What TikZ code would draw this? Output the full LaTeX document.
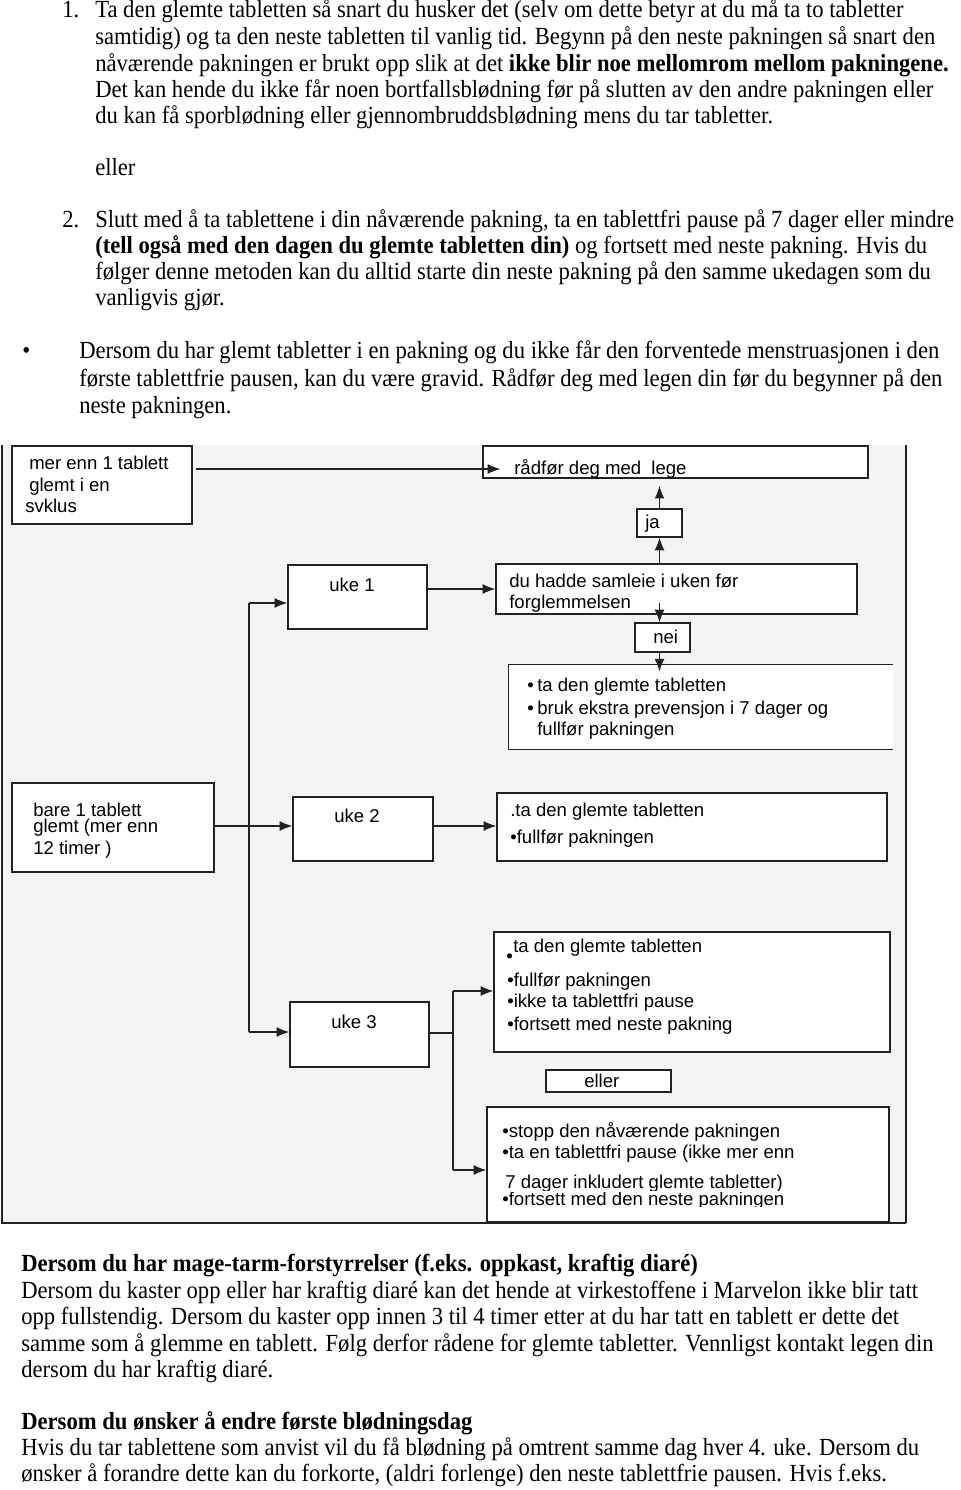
\documentclass[tikz,border=0pt]{standalone}
\usepackage{fontspec}
\setmainfont{Liberation Serif}[FakeStretch=0.92]
\setsansfont{Liberation Sans}
\usepackage{tikz}
\usetikzlibrary{arrows.meta, positioning, fit, calc}
\definecolor{cLine}{HTML}{222222}
\definecolor{cPanel}{HTML}{F4F4F4}

\begin{document}
\begin{tikzpicture}[
    x=0.025cm, y=-0.025cm,
    >=Latex,
    arrow/.style={-{Latex[length=9pt,width=7pt]}, line width=0.9pt, draw=cLine},
    link/.style={line width=0.9pt, draw=cLine},
    box/.style={draw=cLine, fill=white, line width=0.9pt, inner sep=0pt},
    para/.style={anchor=base west, inner sep=0pt, font=\fontsize{17.5}{20}\selectfont},
    lab/.style={anchor=base west, inner sep=0pt, font=\sffamily\fontsize{13.2}{15}\selectfont},
]

\useasboundingbox (0,0) rectangle (960,1490);
\fill[white] (0,0) rectangle (960,1490);

% ---------- Text above the chart ----------
\node[para] (n1) at (62,18) {1.};
\foreach \yy/\ln [count=\i] in {
  18/{Ta den glemte tabletten så snart du husker det (selv om dette betyr at du må ta to tabletter},
  45/{samtidig) og ta den neste tabletten til vanlig tid. Begynn på den neste pakningen så snart den},
  72/{nåværende pakningen er brukt opp slik at det \textbf{ikke blir noe mellomrom mellom pakningene.}},
  98/{Det kan hende du ikke får noen bortfallsblødning før på slutten av den andre pakningen eller},
  124/{du kan få sporblødning eller gjennombruddsblødning mens du tar tabletter.},
  176/{eller}}{
  \node[para] (pa-\i) at (95,\yy) {\ln};
}

\node[para] (n2) at (62,228) {2.};
\foreach \yy/\ln [count=\i] in {
  228/{Slutt med å ta tablettene i din nåværende pakning, ta en tablettfri pause på 7 dager eller mindre},
  254/{\textbf{(tell også med den dagen du glemte tabletten din)} og fortsett med neste pakning. Hvis du},
  280/{følger denne metoden kan du alltid starte din neste pakning på den samme ukedagen som du},
  306/{vanligvis gjør.}}{
  \node[para] (pb-\i) at (95,\yy) {\ln};
}

\node[para] (dot) at (22,359) {•};
\foreach \yy/\ln [count=\i] in {
  359/{Dersom du har glemt tabletter i en pakning og du ikke får den forventede menstruasjonen i den},
  386/{første tablettfrie pausen, kan du være gravid. Rådfør deg med legen din før du begynner på den},
  413/{neste pakningen.}}{
  \node[para] (pc-\i) at (79,\yy) {\ln};
}

% ---------- Chart panel ----------
\fill[cPanel] (2,445) rectangle (906,1223);
\draw[cLine, line width=1.6pt] (2,445) -- (2,1223) -- (906,1223);
\draw[cLine, line width=1.1pt] (906,1223) -- (906,445);

% ---------- Boxes ----------
\node[box, fit={(12,446) (192,524)}] (mer) {};
\node[box, fit={(483,446) (868,478)}] (rad) {};
\node[box, fit={(637,509) (682,537)}] (ja) {};
\node[box, fit={(288,565) (427,629)}] (uke1) {};
\node[box, fit={(496,564) (857,614)}] (sam) {};
\node[box, fit={(635,623) (690,652)}] (nei) {};
\node[fill=white, inner sep=0pt, fit={(509,665) (893,749)}] (b1) {};
\draw[link] (b1.north east) -- (b1.north west) -- (b1.south west) -- (b1.south east);
\node[box, fit={(12,783) (214,872)}] (bare) {};
\node[box, fit={(293,797) (433,861)}] (uke2) {};
\node[box, fit={(497,793) (887,861)}] (b2) {};
\node[box, fit={(494,932) (890,1052)}] (b3) {};
\node[box, fit={(290,1002) (429,1067)}] (uke3) {};
\node[box, fit={(546,1070) (671,1092)}] (eller) {};
\node[box, fit={(487,1107) (889,1222)}] (b5) {};

% ---------- Box texts ----------
\node[lab] (mer-1) at (29,469) {mer enn 1 tablett};
\node[lab] (mer-2) at (29,491) {glemt i en};
\node[lab] (mer-3) at (25,512) {svklus};
\node[lab] (rad-t) at (514,474) {rådfør deg med\ \ lege};
\node[lab] (ja-t) at (645,528) {ja};
\node[lab] (uke1-t) at (329,591) {uke 1};
\node[lab] (sam-1) at (509,587) {du hadde samleie i uken før};
\node[lab] (sam-2) at (509,608) {forglemmelsen};
\node[lab] (nei-t) at (653,643) {nei};
\node[lab] (b1-d1) at (527,691) {•};
\node[lab] (b1-1) at (537,691) {ta den glemte tabletten};
\node[lab] (b1-d2) at (527,714) {•};
\node[lab] (b1-2) at (537,714) {bruk ekstra prevensjon i 7 dager og};
\node[lab] (b1-3) at (537,735) {fullfør pakningen};
\node[lab] (bare-1) at (33,816) {bare 1 tablett};
\node[lab] (bare-2) at (33,832) {glemt (mer enn};
\node[lab] (bare-3) at (33,854) {12 timer )};
\node[lab] (uke2-t) at (334,822) {uke 2};
\node[lab] (b2-1) at (510,816) {.ta den glemte tabletten};
\node[lab] (b2-2) at (510,843) {•fullfør pakningen};
\node[lab] (b3-1) at (513,952) {ta den glemte tabletten};
\node[lab] (b3-d) at (506,962) {•};
\node[lab] (b3-2) at (507,986) {•fullfør pakningen};
\node[lab] (b3-3) at (507,1007) {•ikke ta tablettfri pause};
\node[lab] (b3-4) at (507,1030) {•fortsett med neste pakning};
\node[lab] (uke3-t) at (331,1028) {uke 3};
\node[lab] (eller-t) at (584,1087) {eller};
\node[lab] (b5-1) at (502,1137) {•stopp den nåværende pakningen};
\node[lab] (b5-2) at (502,1158) {•ta en tablettfri pause (ikke mer enn};
\begin{scope}
  \clip (487,1170) rectangle (889,1190);
  \node[lab] (b5-3) at (505,1188) {7 dager inkludert glemte tabletter)};
\end{scope}
\begin{scope}
  \clip (487,1192) rectangle (889,1206);
  \node[lab] (b5-4) at (502,1205) {•fortsett med den neste pakningen};
\end{scope}

% ---------- Connectors ----------
\coordinate (m1) at (196,469);
\draw[arrow] (m1) -- ([xshift=0.45cm]rad.west |- m1);
\draw[arrow] (ja.north) -- ([yshift=-0.18cm]rad.south -| ja.north);
\draw[arrow] (sam.north -| ja.south) -- (ja.south);
\draw[arrow] ([yshift=0.3cm]sam.south -| ja.south) -- (nei.north -| ja.south);
\draw[arrow] (nei.south -| ja.south) -- ([yshift=-0.17cm]b1.north -| ja.south);
\draw[arrow] (uke1.east |- sam.west) -- (sam.west);

\coordinate (t1) at (249,603);
\coordinate (t3) at (249,1032);
\draw[link] (t1) -- (t3);
\draw[arrow] (t1) -- (t1 -| uke1.west);
\draw[arrow] (t3) -- (t3 -| uke3.west);

\draw[arrow] (bare.east |- 0,826) -- (uke2.west |- 0,826);
\draw[arrow] (uke2.east |- 0,826) -- (b2.west |- 0,826);

\coordinate (s0) at (453,1033);
\coordinate (s1) at (453,991);
\coordinate (s2) at (453,1170);
\draw[link] (uke3.east |- s0) -- (s0);
\draw[link] (s1) -- (s2);
\draw[arrow] (s1) -- (s1 -| b3.west);
\draw[arrow] (s2) -- (s2 -| b5.west);

% ---------- Text below the chart ----------
\foreach \yy/\ln [count=\i] in {
  1271/{\textbf{Dersom du har mage-tarm-forstyrrelser (f.eks. oppkast, kraftig diaré)}},
  1298/{Dersom du kaster opp eller har kraftig diaré kan det hende at virkestoffene i Marvelon ikke blir tatt},
  1324/{opp fullstendig. Dersom du kaster opp innen 3 til 4 timer etter at du har tatt en tablett er dette det},
  1351/{samme som å glemme en tablett. Følg derfor rådene for glemte tabletter. Vennligst kontakt legen din},
  1377/{dersom du har kraftig diaré.},
  1429/{\textbf{Dersom du ønsker å endre første blødningsdag}},
  1455/{Hvis du tar tablettene som anvist vil du få blødning på omtrent samme dag hver 4. uke. Dersom du},
  1481/{ønsker å forandre dette kan du forkorte, (aldri forlenge) den neste tablettfrie pausen. Hvis f.eks.}}{
  \node[para] (pd-\i) at (21,\yy) {\ln};
}

\end{tikzpicture}
\end{document}
